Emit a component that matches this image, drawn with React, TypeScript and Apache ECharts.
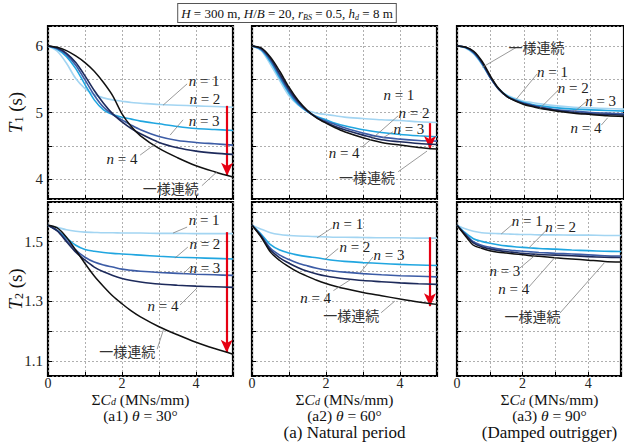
import React, { useEffect, useRef } from "react";
import * as echarts from "echarts";

// ---------- data ----------
const xs = [0, 0.25, 0.5, 0.75, 1, 1.25, 1.5, 1.75, 2, 2.25, 2.5, 3, 3.5, 4, 4.5, 5];
const seriesNames = ["n = 1", "n = 2", "n = 3", "n = 4", "一様連続"];

// (a1) θ = 30°, T1
const a1T1_n1 = [6.0, 5.92, 5.74, 5.51, 5.36, 5.27, 5.22, 5.19, 5.17, 5.15, 5.14, 5.12, 5.11, 5.1, 5.09, 5.08];
const a1T1_n2 = [6.0, 5.95, 5.84, 5.66, 5.42, 5.19, 5.04, 4.97, 4.93, 4.9, 4.87, 4.83, 4.79, 4.76, 4.745, 4.73];
const a1T1_n3 = [6.0, 5.96, 5.87, 5.71, 5.49, 5.26, 5.08, 4.97, 4.89, 4.81, 4.74, 4.64, 4.58, 4.55, 4.53, 4.51];
const a1T1_n4 = [6.0, 5.97, 5.89, 5.75, 5.55, 5.33, 5.14, 4.98, 4.86, 4.76, 4.68, 4.55, 4.47, 4.42, 4.39, 4.37];
const a1T1_u = [6.0, 5.98, 5.93, 5.85, 5.75, 5.62, 5.45, 5.25, 4.98, 4.79, 4.65, 4.46, 4.32, 4.2, 4.11, 4.03];

// (a2) θ = 60°, T1
const a2T1_n1 = [6.0, 5.93, 5.72, 5.48, 5.25, 5.11, 5.03, 4.99, 4.97, 4.95, 4.93, 4.91, 4.89, 4.88, 4.86, 4.85];
const a2T1_n2 = [6.0, 5.94, 5.76, 5.52, 5.29, 5.12, 5.01, 4.94, 4.89, 4.84, 4.8, 4.74, 4.7, 4.67, 4.65, 4.635];
const a2T1_n3 = [6.0, 5.95, 5.79, 5.55, 5.32, 5.14, 5.02, 4.93, 4.87, 4.82, 4.77, 4.69, 4.63, 4.6, 4.58, 4.57];
const a2T1_n4 = [6.0, 5.96, 5.81, 5.58, 5.35, 5.16, 5.02, 4.92, 4.85, 4.79, 4.74, 4.66, 4.59, 4.56, 4.535, 4.52];
const a2T1_u = [6.0, 5.97, 5.83, 5.62, 5.38, 5.18, 5.03, 4.92, 4.84, 4.77, 4.71, 4.62, 4.55, 4.51, 4.475, 4.45];

// (a3) θ = 90°, T1
const a3T1_n1 = [6.0, 5.97, 5.88, 5.72, 5.52, 5.36, 5.26, 5.21, 5.17, 5.15, 5.13, 5.1, 5.08, 5.07, 5.06, 5.05];
const a3T1_n2 = [6.0, 5.975, 5.89, 5.73, 5.52, 5.35, 5.25, 5.19, 5.15, 5.12, 5.1, 5.07, 5.05, 5.04, 5.03, 5.02];
const a3T1_n3 = [6.0, 5.98, 5.9, 5.74, 5.52, 5.35, 5.24, 5.18, 5.14, 5.11, 5.08, 5.04, 5.02, 5.0, 4.99, 4.98];
const a3T1_n4 = [6.0, 5.98, 5.91, 5.75, 5.53, 5.35, 5.24, 5.18, 5.13, 5.1, 5.07, 5.03, 5.0, 4.98, 4.97, 4.96];
const a3T1_u = [6.0, 5.985, 5.92, 5.77, 5.55, 5.36, 5.24, 5.17, 5.12, 5.09, 5.06, 5.02, 4.99, 4.97, 4.95, 4.94];

// (a1) θ = 30°, T2
const a1T2_n1 = [1.555, 1.548, 1.54, 1.535, 1.532, 1.531, 1.53, 1.53, 1.529, 1.529, 1.529, 1.528, 1.528, 1.527, 1.527, 1.527];
const a1T2_n2 = [1.555, 1.538, 1.513, 1.488, 1.474, 1.468, 1.464, 1.461, 1.459, 1.457, 1.455, 1.451, 1.448, 1.446, 1.444, 1.442];
const a1T2_n3 = [1.555, 1.537, 1.505, 1.472, 1.448, 1.432, 1.422, 1.415, 1.408, 1.404, 1.401, 1.397, 1.394, 1.391, 1.389, 1.387];
const a1T2_n4 = [1.555, 1.536, 1.5, 1.465, 1.438, 1.415, 1.399, 1.387, 1.377, 1.37, 1.365, 1.358, 1.354, 1.351, 1.349, 1.347];
const a1T2_u = [1.555, 1.546, 1.515, 1.472, 1.427, 1.385, 1.35, 1.318, 1.292, 1.268, 1.248, 1.215, 1.188, 1.163, 1.142, 1.123];

// (a2) θ = 60°, T2
const a2T2_n1 = [1.555, 1.542, 1.53, 1.524, 1.521, 1.519, 1.518, 1.517, 1.516, 1.515, 1.515, 1.514, 1.513, 1.513, 1.512, 1.512];
const a2T2_n2 = [1.555, 1.525, 1.49, 1.472, 1.462, 1.455, 1.45, 1.446, 1.441, 1.437, 1.434, 1.43, 1.427, 1.424, 1.422, 1.42];
const a2T2_n3 = [1.555, 1.52, 1.478, 1.455, 1.44, 1.428, 1.419, 1.411, 1.405, 1.401, 1.398, 1.393, 1.389, 1.386, 1.384, 1.382];
const a2T2_n4 = [1.555, 1.518, 1.472, 1.446, 1.428, 1.413, 1.401, 1.392, 1.385, 1.38, 1.376, 1.37, 1.366, 1.362, 1.359, 1.357];
const a2T2_u = [1.555, 1.515, 1.465, 1.437, 1.416, 1.398, 1.384, 1.371, 1.36, 1.351, 1.343, 1.33, 1.319, 1.308, 1.298, 1.29];

// (a3) θ = 90°, T2
const a3T2_n1 = [1.555, 1.543, 1.535, 1.53, 1.528, 1.527, 1.526, 1.525, 1.524, 1.524, 1.523, 1.523, 1.522, 1.522, 1.521, 1.521];
const a3T2_n2 = [1.555, 1.53, 1.51, 1.501, 1.495, 1.49, 1.486, 1.483, 1.481, 1.479, 1.477, 1.475, 1.472, 1.47, 1.468, 1.467];
const a3T2_n3 = [1.555, 1.526, 1.5, 1.488, 1.481, 1.476, 1.473, 1.47, 1.468, 1.466, 1.464, 1.461, 1.459, 1.456, 1.453, 1.452];
const a3T2_n4 = [1.555, 1.524, 1.496, 1.483, 1.476, 1.471, 1.467, 1.464, 1.461, 1.459, 1.457, 1.455, 1.453, 1.45, 1.448, 1.447];
const a3T2_u = [1.555, 1.52, 1.488, 1.478, 1.47, 1.465, 1.462, 1.459, 1.456, 1.453, 1.451, 1.446, 1.442, 1.438, 1.434, 1.432];

const panelSeries = [
  [a1T1_n1, a1T1_n2, a1T1_n3, a1T1_n4, a1T1_u],
  [a2T1_n1, a2T1_n2, a2T1_n3, a2T1_n4, a2T1_u],
  [a3T1_n1, a3T1_n2, a3T1_n3, a3T1_n4, a3T1_u],
  [a1T2_n1, a1T2_n2, a1T2_n3, a1T2_n4, a1T2_u],
  [a2T2_n1, a2T2_n2, a2T2_n3, a2T2_n4, a2T2_u],
  [a3T2_n1, a3T2_n2, a3T2_n3, a3T2_n4, a3T2_u],
];

// red arrows: panel, x, from, to
const arrows = [
  { panel: 0, x: 4.84, from: 5.1, to: 4.05 },
  { panel: 1, x: 4.81, from: 4.84, to: 4.45 },
  { panel: 3, x: 4.83, from: 1.532, to: 1.128 },
  { panel: 4, x: 4.81, from: 1.515, to: 1.284 },
];

// annotation labels (data coords of text centre)
const labels = [
  { panel: 0, text: "n = 1", x: 4.22, y: 5.47 },
  { panel: 0, text: "n = 2", x: 4.24, y: 5.2 },
  { panel: 0, text: "n = 3", x: 4.22, y: 4.87 },
  { panel: 0, text: "n = 4", x: 2.0, y: 4.3 },
  { panel: 0, text: "一様連続", x: 3.32, y: 3.87 },
  { panel: 1, text: "n = 1", x: 3.97, y: 5.26 },
  { panel: 1, text: "n = 2", x: 4.38, y: 4.99 },
  { panel: 1, text: "n = 3", x: 4.24, y: 4.75 },
  { panel: 1, text: "n = 4", x: 2.49, y: 4.39 },
  { panel: 1, text: "一様連続", x: 3.11, y: 4.03 },
  { panel: 2, text: "一様連続", x: 2.38, y: 5.98 },
  { panel: 2, text: "n = 1", x: 2.86, y: 5.61 },
  { panel: 2, text: "n = 2", x: 3.48, y: 5.37 },
  { panel: 2, text: "n = 3", x: 4.3, y: 5.17 },
  { panel: 2, text: "n = 4", x: 3.86, y: 4.77 },
  { panel: 3, text: "n = 1", x: 4.22, y: 1.573 },
  { panel: 3, text: "n = 2", x: 4.24, y: 1.492 },
  { panel: 3, text: "n = 3", x: 4.24, y: 1.412 },
  { panel: 3, text: "n = 4", x: 3.11, y: 1.285 },
  { panel: 3, text: "一様連続", x: 2.14, y: 1.134 },
  { panel: 4, text: "n = 1", x: 2.59, y: 1.559 },
  { panel: 4, text: "n = 2", x: 2.78, y: 1.482 },
  { panel: 4, text: "n = 3", x: 3.7, y: 1.455 },
  { panel: 4, text: "n = 4", x: 1.72, y: 1.313 },
  { panel: 4, text: "一様連続", x: 2.68, y: 1.254 },
  { panel: 5, text: "n = 1", x: 2.14, y: 1.569 },
  { panel: 5, text: "n = 2", x: 3.16, y: 1.549 },
  { panel: 5, text: "n = 3", x: 1.46, y: 1.402 },
  { panel: 5, text: "n = 4", x: 1.73, y: 1.341 },
  { panel: 5, text: "一様連続", x: 2.3, y: 1.251 },
];

// leader lines (data coords)
const leaders = [
  { panel: 0, x1: 3.76, y1: 5.43, x2: 3.11, y2: 5.11 },
  { panel: 0, x1: 3.65, y1: 4.89, x2: 3.3, y2: 4.66 },
  { panel: 0, x1: 2.49, y1: 4.36, x2: 3.0, y2: 4.57 },
  { panel: 0, x1: 4.16, y1: 3.9, x2: 4.57, y2: 4.11 },
  { panel: 1, x1: 3.95, y1: 4.95, x2: 3.46, y2: 4.71 },
  { panel: 1, x1: 3.81, y1: 4.71, x2: 3.54, y2: 4.62 },
  { panel: 1, x1: 2.97, y1: 4.48, x2: 3.46, y2: 4.71 },
  { panel: 1, x1: 3.95, y1: 4.11, x2: 4.73, y2: 4.42 },
  { panel: 2, x1: 1.78, y1: 5.98, x2: 0.76, y2: 5.68 },
  { panel: 2, x1: 2.4, y1: 5.58, x2: 1.76, y2: 5.19 },
  { panel: 2, x1: 3.02, y1: 5.33, x2: 2.46, y2: 5.05 },
  { panel: 2, x1: 3.86, y1: 5.16, x2: 3.51, y2: 5.01 },
  { panel: 2, x1: 4.32, y1: 4.81, x2: 4.51, y2: 4.92 },
  { panel: 3, x1: 3.76, y1: 1.549, x2: 3.38, y2: 1.529 },
  { panel: 3, x1: 3.78, y1: 1.482, x2: 3.43, y2: 1.445 },
  { panel: 3, x1: 3.84, y1: 1.415, x2: 3.65, y2: 1.392 },
  { panel: 3, x1: 3.57, y1: 1.288, x2: 4.03, y2: 1.345 },
  { panel: 3, x1: 2.95, y1: 1.14, x2: 3.12, y2: 1.205 },
  { panel: 4, x1: 2.16, y1: 1.546, x2: 1.76, y2: 1.513 },
  { panel: 4, x1: 2.33, y1: 1.477, x2: 1.97, y2: 1.44 },
  { panel: 4, x1: 3.27, y1: 1.449, x2: 2.92, y2: 1.395 },
  { panel: 4, x1: 2.2, y1: 1.336, x2: 2.65, y2: 1.372 },
  { panel: 4, x1: 3.49, y1: 1.262, x2: 3.86, y2: 1.301 },
  { panel: 5, x1: 1.7, y1: 1.559, x2: 1.35, y2: 1.526 },
  { panel: 5, x1: 2.73, y1: 1.539, x2: 2.19, y2: 1.479 },
  { panel: 5, x1: 1.92, y1: 1.412, x2: 2.43, y2: 1.459 },
  { panel: 5, x1: 2.19, y1: 1.348, x2: 3.0, y2: 1.449 },
  { panel: 5, x1: 3.14, y1: 1.261, x2: 4.49, y2: 1.429 },
];

const subCaptions = ["(a1) θ = 30°", "(a2) θ = 60°", "(a3) θ = 90°"];

// ---------- styles ----------
const SERIF = "'Liberation Serif', 'Times New Roman', 'DejaVu Serif', serif";
const CJK = "'Noto Sans CJK JP', sans-serif";
const lineColors = ["#a3d5f2", "#20a6e0", "#3c5ca6", "#1d2a5b", "#111111"];
const gridLefts = [48, 252, 457];
const gridTops = [26, 202];
const gridHeights = [173, 174];
const gridWidth = 185;
const yRanges = [
  [3.7, 6.3],
  [1.05, 1.633],
];

const richBase = {
  i: { fontFamily: SERIF, fontStyle: "italic", fontSize: 15, fill: "#222", color: "#222", lineHeight: 15 },
  r: { fontFamily: SERIF, fontSize: 15, fill: "#222", color: "#222", lineHeight: 15 },
  j: { fontFamily: CJK, fontSize: 14, fill: "#333", color: "#333", lineHeight: 15 },
};

function labelText(t: string) {
  if (t.startsWith("n = ")) return "{i|n}{r| = " + t.slice(4) + "}";
  return "{j|" + t + "}";
}

const centered = {
  align: "center",
  verticalAlign: "middle",
  textAlign: "center",
  textVerticalAlign: "middle",
};

export default function App() {
  const ref = useRef<HTMLDivElement>(null);
  useEffect(() => {
    if (!ref.current) return;
    const chart = echarts.init(ref.current, null, { renderer: "svg" });

    const grids: any[] = [];
    const xAxes: any[] = [];
    const yAxes: any[] = [];
    const series: any[] = [];
    for (let p = 0; p < 6; p++) {
      const row = Math.floor(p / 3);
      const col = p % 3;
      grids.push({
        left: gridLefts[col],
        top: gridTops[row],
        width: gridWidth,
        height: gridHeights[row],
        show: true,
        borderColor: "#000",
        borderWidth: 2.2,
        backgroundColor: "#fff",
      });
      xAxes.push({
        type: "value",
        gridIndex: p,
        min: 0,
        max: 5,
        interval: 1,
        axisLine: { show: false },
        axisTick: { show: true, inside: true, length: 4, lineStyle: { color: "#000" } },
        splitLine: { show: true, lineStyle: { color: "#9a9a9a", type: [2, 2], width: 0.8 } },
        axisLabel: {
          show: row === 1,
          fontFamily: SERIF,
          fontSize: 14,
          lineHeight: 13,
          color: "#222",
          margin: 1,
          formatter: (v: number) => (Math.round(v) % 2 === 0 ? String(v) : ""),
        },
      });
      yAxes.push({
        type: "value",
        gridIndex: p,
        min: yRanges[row][0],
        max: yRanges[row][1],
        axisLine: { show: false },
        axisTick: { show: true, inside: true, length: 4, lineStyle: { color: "#000" } },
        splitLine: { show: true, lineStyle: { color: "#9a9a9a", type: [2, 2], width: 0.8 } },
        axisLabel: {
          show: col === 0,
          fontFamily: SERIF,
          fontSize: 15,
          color: "#222",
          margin: 5,
          formatter: (v: number) => {
            if (row === 0) return Math.abs(v - Math.round(v)) < 1e-6 ? String(Math.round(v)) : "";
            const k = Math.round(v * 10);
            return Math.abs(v * 10 - k) < 1e-6 && k % 2 === 1 ? (k / 10).toFixed(1) : "";
          },
        },
      });
      panelSeries[p].forEach((vals, si) => {
        const s: any = {
          type: "line",
          name: seriesNames[si],
          xAxisIndex: p,
          yAxisIndex: p,
          data: xs.map((x, i) => [x, vals[i]]),
          showSymbol: false,
          smooth: 0.3,
          lineStyle: { color: lineColors[si], width: si === 4 ? 1.5 : 1.6 },
          itemStyle: { color: lineColors[si] },
          z: 2 + si,
        };
        if (si === 4) {
          const ar = arrows.filter((a) => a.panel === p);
          if (ar.length) {
            s.markLine = {
              silent: true,
              symbol: ["none", "arrow"],
              symbolSize: [9, 13],
              label: { show: false },
              lineStyle: { color: "#e60012", width: 2.2, type: "solid" },
              data: ar.map((a) => [{ coord: [a.x, a.from] }, { coord: [a.x, a.to] }]),
            };
          }
        }
        series.push(s);
      });
    }

    chart.setOption({
      animation: false,
      textStyle: { fontFamily: SERIF },
      grid: grids,
      xAxis: xAxes,
      yAxis: yAxes,
      series,
    });

    const g: any[] = [];
    leaders.forEach((l) => {
      const a = chart.convertToPixel({ gridIndex: l.panel } as any, [l.x1, l.y1]) as number[];
      const b = chart.convertToPixel({ gridIndex: l.panel } as any, [l.x2, l.y2]) as number[];
      g.push({
        type: "line",
        z: 50,
        shape: { x1: a[0], y1: a[1], x2: b[0], y2: b[1] },
        style: { stroke: "#808080", lineWidth: 0.8 },
      });
    });
    labels.forEach((lb) => {
      const pt = chart.convertToPixel({ gridIndex: lb.panel } as any, [lb.x, lb.y]) as number[];
      g.push({
        type: "text",
        z: 60,
        x: pt[0],
        y: pt[1],
        style: { text: labelText(lb.text), rich: richBase, ...centered },
      });
    });

    // title box
    g.push({
      type: "text",
      z: 60,
      x: 287,
      y: 13,
      style: {
        text: "{i|H}{r| = 300 m, }{i|H}{r|/}{i|B}{r| = 20, }{i|r}{s|BS}{r| = 0.5, }{i|h}{s|d}{r| = 8 m}",
        rich: {
          i: { fontFamily: SERIF, fontStyle: "italic", fontSize: 13, fill: "#111", lineHeight: 16 },
          r: { fontFamily: SERIF, fontSize: 13, fill: "#111", lineHeight: 16 },
          s: { fontFamily: SERIF, fontStyle: "italic", fontSize: 8, fill: "#111", verticalAlign: "bottom", lineHeight: 16 },
        },
        ...centered,
        borderColor: "#555",
        borderWidth: 1,
        padding: [1, 3, 1, 3],
        backgroundColor: "#fff",
      },
    });

    // y-axis names
    const yNames = [
      { sub: "1", y: gridTops[0] + gridHeights[0] / 2 },
      { sub: "2", y: gridTops[1] + gridHeights[1] / 2 },
    ];
    yNames.forEach((yn) => {
      g.push({
        type: "text",
        z: 60,
        x: 15,
        y: yn.y,
        rotation: Math.PI / 2,
        style: {
          text: "{i|T}{s|" + yn.sub + "}{r| (s)}",
          rich: {
            i: { fontFamily: SERIF, fontStyle: "italic", fontSize: 19, fill: "#111", lineHeight: 20 },
            r: { fontFamily: SERIF, fontSize: 19, fill: "#111", lineHeight: 20 },
            s: { fontFamily: SERIF, fontSize: 12, fill: "#111", verticalAlign: "bottom", lineHeight: 20 },
          },
          ...centered,
        },
      });
    });

    // x-axis names and captions
    for (let c = 0; c < 3; c++) {
      const cx = gridLefts[c] + gridWidth / 2;
      g.push({
        type: "text",
        z: 60,
        x: cx,
        y: 399.5,
        style: {
          text: "{r|Σ}{i|C}{s|d}{r| (MNs/mm)}",
          rich: {
            i: { fontFamily: SERIF, fontStyle: "italic", fontSize: 15.5, fill: "#111", lineHeight: 14 },
            r: { fontFamily: SERIF, fontSize: 15.5, fill: "#111", lineHeight: 14 },
            s: { fontFamily: SERIF, fontStyle: "italic", fontSize: 10, fill: "#111", verticalAlign: "bottom", lineHeight: 14 },
          },
          ...centered,
        },
      });
      const parts = subCaptions[c].split("θ");
      g.push({
        type: "text",
        z: 60,
        x: cx,
        y: 415.5,
        style: {
          text: "{r|" + parts[0] + "}{i|θ}{r|" + parts[1] + "}",
          rich: {
            i: { fontFamily: SERIF, fontStyle: "italic", fontSize: 15.5, fill: "#111", lineHeight: 14 },
            r: { fontFamily: SERIF, fontSize: 15.5, fill: "#111", lineHeight: 14 },
          },
          ...centered,
        },
      });
    }
    const bottomCaps = [
      { col: 1, text: "(a) Natural period" },
      { col: 2, text: "(Damped outrigger)" },
    ];
    bottomCaps.forEach((bc) => {
      g.push({
        type: "text",
        z: 60,
        x: gridLefts[bc.col] + gridWidth / 2,
        y: 432.5,
        style: {
          text: "{r|" + bc.text + "}",
          rich: { r: { fontFamily: SERIF, fontSize: 17, fill: "#111", lineHeight: 15 } },
          ...centered,
        },
      });
    });

    chart.setOption({ graphic: g });

    return () => chart.dispose();
  }, []);

  return (
    <div
      ref={ref}
      style={{ position: "fixed", left: 0, top: 0, width: 624, height: 445, background: "#fff" }}
    />
  );
}
